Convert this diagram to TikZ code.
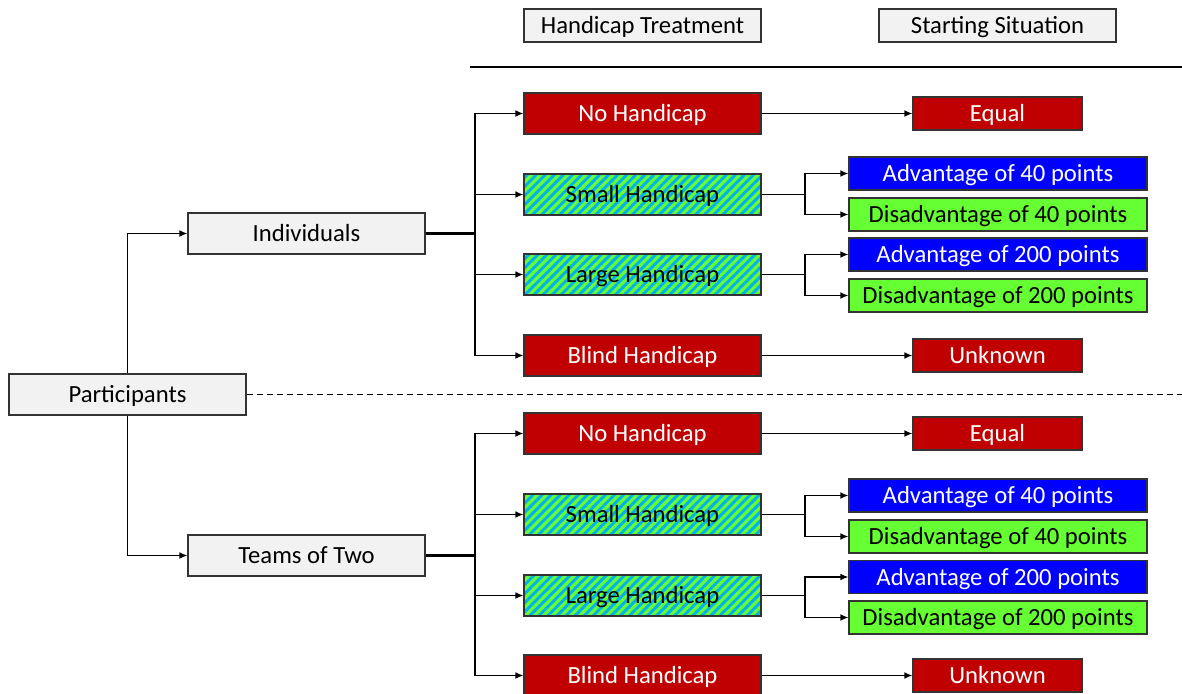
\documentclass[tikz,border=0pt]{standalone}
\usepackage{fontspec}
\setmainfont{Carlito}
\usepackage{xcolor}
\usepackage{tikz}
\usetikzlibrary{arrows.meta, patterns.meta}
\definecolor{hcred}{RGB}{192,0,0}
\definecolor{hcblue}{RGB}{0,0,255}
\definecolor{hcgreen}{RGB}{102,255,51}
\definecolor{hcstripe}{RGB}{0,176,240}
\definecolor{hcgray}{RGB}{242,242,242}

\begin{document}
\begin{tikzpicture}[
  x=0.75pt, y=-0.75pt,
  box/.style={rectangle, draw=black!80, line width=0.9pt, minimum width=177.75pt, minimum height=30.75pt, inner sep=0pt, text height=12pt, text depth=0pt, font=\fontsize{18.5}{21}\selectfont},
  group/.style={box, fill=hcgray},
  header/.style={group, minimum height=24.75pt},
  redbox/.style={box, fill=hcred, text=white},
  stripebox/.style={box, fill=hcgreen, postaction={pattern={Lines[angle=45, distance=4.8pt, line width=2.2pt]}, pattern color=hcstripe}, postaction={draw=black!80, line width=0.9pt}},
  result/.style={box, minimum height=24.75pt},
  redres/.style={result, fill=hcred, text=white, minimum width=126.75pt},
  advbox/.style={result, fill=hcblue, text=white, minimum width=223.5pt},
  disbox/.style={result, fill=hcgreen, minimum width=223.5pt},
  rel/.style={-{Latex[length=6pt, width=5pt]}, line width=0.9pt},
  link/.style={line width=0.9pt},
  trunk/.style={line width=1.8pt}
]
\useasboundingbox (0,0) rectangle (1182,693);

% headers
\node[header] (hdtreat) at (642.5, 25.5) {Handicap Treatment};
\node[header] (hdstart) at (997.5, 25.5) {Starting Situation};
\coordinate (ruleL) at (470, 67);
\coordinate (ruleR) at (1182, 67);
\draw[link] (ruleL) -- (ruleR);

% participants
\node[group] (part) at (127.5, 394.5) {Participants};
\node[group] (ind) at (306.5, 233.5) {Individuals};
\node[group] (team) at (306.5, 555.5) {Teams of Two};
\coordinate (dashend) at (1182, 394.5);
\draw[link, dashed, dash pattern=on 4.5pt off 3pt] (part.east) -- (dashend);
\draw[rel] (part.north) |- (ind.west);
\draw[rel] (part.south) |- (team.west);

% individuals
\node[redbox] (noI) at (642.5, 113.5) {No Handicap};
\node[stripebox] (smI) at (642.5, 194.5) {Small Handicap};
\node[stripebox] (lgI) at (642.5, 274.5) {Large Handicap};
\node[redbox] (blI) at (642.5, 355.5) {Blind Handicap};
\node[redres] (eqI) at (997.5, 113.5) {Equal};
\node[advbox] (a40I) at (998, 173.5) {Advantage of 40 points};
\node[disbox] (d40I) at (998, 214.5) {Disadvantage of 40 points};
\node[advbox] (a200I) at (998, 254.5) {Advantage of 200 points};
\node[disbox] (d200I) at (998, 295.5) {Disadvantage of 200 points};
\node[redres] (unI) at (997.5, 355.5) {Unknown};

\coordinate (jI) at (475, 233.5);
\draw[trunk] (ind.east) -- (jI);
\draw[rel] (jI) |- (noI.west);
\draw[rel] (jI) |- (smI.west);
\draw[rel] (jI) |- (lgI.west);
\draw[rel] (jI) |- (blI.west);
\draw[rel] (noI.east) -- (eqI.west);
\draw[rel] (blI.east) -- (unI.west);
\coordinate (sI) at (805, 194.5);
\coordinate (lI) at (805, 274.5);
\draw[link] (smI.east) -- (sI);
\draw[rel] (sI) |- (a40I.west);
\draw[rel] (sI) |- (d40I.west);
\draw[link] (lgI.east) -- (lI);
\draw[rel] (lI) |- (a200I.west);
\draw[rel] (lI) |- (d200I.west);

% teams of two
\node[redbox] (noT) at (642.5, 433.5) {No Handicap};
\node[stripebox] (smT) at (642.5, 514.5) {Small Handicap};
\node[stripebox] (lgT) at (642.5, 595.5) {Large Handicap};
\node[redbox] (blT) at (642.5, 675.5) {Blind Handicap};
\node[redres] (eqT) at (997.5, 433.5) {Equal};
\node[advbox] (a40T) at (998, 495.5) {Advantage of 40 points};
\node[disbox] (d40T) at (998, 536.5) {Disadvantage of 40 points};
\node[advbox] (a200T) at (998, 577) {Advantage of 200 points};
\node[disbox] (d200T) at (998, 617.5) {Disadvantage of 200 points};
\node[redres] (unT) at (997.5, 675.5) {Unknown};

\coordinate (jT) at (475, 555.5);
\draw[trunk] (team.east) -- (jT);
\draw[rel] (jT) |- (noT.west);
\draw[rel] (jT) |- (smT.west);
\draw[rel] (jT) |- (lgT.west);
\draw[rel] (jT) |- (blT.west);
\draw[rel] (noT.east) -- (eqT.west);
\draw[rel] (blT.east) -- (unT.west);
\coordinate (sT) at (805, 514.5);
\coordinate (lT) at (805, 595.5);
\draw[link] (smT.east) -- (sT);
\draw[rel] (sT) |- (a40T.west);
\draw[rel] (sT) |- (d40T.west);
\draw[link] (lgT.east) -- (lT);
\draw[rel] (lT) |- (a200T.west);
\draw[rel] (lT) |- (d200T.west);
\end{tikzpicture}
\end{document}
